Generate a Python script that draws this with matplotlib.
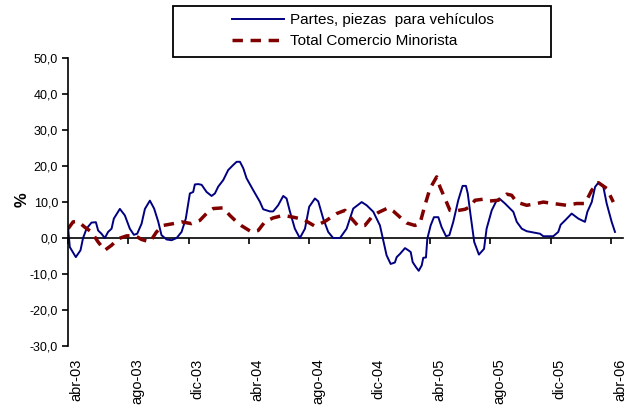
import matplotlib
matplotlib.use("Agg")
import matplotlib.pyplot as plt
from matplotlib.patches import Rectangle
from matplotlib.transforms import ScaledTranslation

plt.rcParams["font.family"] = ["Liberation Sans", "DejaVu Sans"]

# posicion en meses desde abr-03, variacion en %
mes_partes = [0.02, 0.13, 0.53, 0.84, 1.01, 1.24, 1.57, 1.86, 2.01, 2.23,
              2.45, 2.67, 2.90, 3.05, 3.45, 3.78, 4.11, 4.38, 4.60, 4.89,
              5.11, 5.44, 5.72, 5.99, 6.21, 6.55, 6.88, 7.21, 7.54, 7.82,
              8.09, 8.31, 8.42, 8.64, 8.87, 9.20, 9.53, 9.75, 9.97, 10.30,
              10.63, 10.96, 11.19, 11.41, 11.63, 11.85, 12.29, 12.73, 12.95, 13.40,
              13.61, 13.94, 14.28, 14.50, 14.72, 15.05, 15.38, 15.72, 16.00, 16.38,
              16.60, 16.93, 17.26, 17.59, 18.04, 18.48, 18.92, 19.48, 19.81, 20.25,
              20.69, 20.91, 21.13, 21.40, 21.68, 21.80, 22.02, 22.35, 22.57, 22.73,
              22.86, 23.08, 23.26, 23.46, 23.56, 23.74, 23.83, 24.05, 24.27, 24.56,
              24.78, 25.07, 25.29, 25.55, 25.88, 26.17, 26.39, 26.51, 26.70, 26.94,
              27.25, 27.59, 27.76, 28.10, 28.43, 28.60, 28.98, 29.53, 29.76, 30.09,
              30.42, 31.30, 31.52, 32.18, 32.51, 32.67, 32.96, 33.40, 33.84, 34.28,
              34.44, 34.73, 34.95, 35.17, 35.50, 35.72, 36.05, 36.27]
val_partes = [2.7, -2.5, -5.3, -3.4, 0.0, 2.6, 4.3, 4.4, 2.1, 1.2,
              0.0, 1.7, 2.6, 5.4, 8.1, 6.3, 2.6, 0.9, 1.2, 4.0,
              8.1, 10.4, 8.2, 4.6, 0.8, -0.4, -0.6, 0.0, 1.7, 5.4,
              12.4, 12.8, 14.9, 15.0, 14.8, 12.8, 11.7, 12.4, 14.3, 16.1,
              18.9, 20.3, 21.2, 21.2, 19.4, 16.6, 13.3, 10.1, 8.0, 7.4,
              7.4, 9.1, 11.7, 11.0, 7.4, 2.6, 0.0, 2.6, 8.7, 11.0,
              10.2, 5.4, 1.7, 0.0, 0.0, 2.6, 8.2, 10.0, 9.1, 7.3,
              3.5, -0.7, -4.8, -7.2, -6.8, -5.3, -4.4, -2.8, -3.4, -3.9,
              -6.7, -8.1, -9.1, -7.6, -5.5, -5.4, -0.2, 3.5, 5.8, 5.8,
              3.0, 0.5, 0.8, 4.5, 10.5, 14.5, 14.5, 12.4, 6.3, -1.1,
              -4.6, -3.0, 2.6, 7.7, 10.5, 11.0, 9.6, 7.3, 4.5, 2.6,
              1.9, 1.2, 0.5, 0.5, 1.7, 3.7, 4.9, 6.8, 5.4, 4.5,
              7.3, 10.0, 14.2, 15.4, 14.2, 9.6, 4.5, 1.7]

mes_total = [0.02, 0.35, 0.68, 1.13, 1.57, 2.01, 2.45, 2.90, 3.34, 3.89,
             4.44, 4.89, 5.44, 5.88, 6.32, 6.98, 7.54, 8.20, 8.75, 9.30,
             9.64, 10.30, 10.74, 11.19, 11.52, 12.18, 12.62, 13.06, 13.61, 14.28,
             14.94, 15.60, 16.38, 17.04, 17.82, 18.37, 18.81, 19.25, 19.69, 20.14,
             20.58, 21.24, 21.57, 22.02, 22.46, 23.01, 23.34, 23.67, 24.01, 24.45,
             24.67, 25.00, 25.33, 25.66, 26.33, 26.66, 26.99, 27.54, 27.98, 28.53,
             29.09, 29.42, 29.75, 30.42, 31.08, 31.52, 32.18, 33.07, 33.73, 34.28,
             34.73, 35.17, 35.72, 36.16]
val_total = [2.6, 4.5, 4.6, 3.0, 1.7, -1.1, -3.4, -2.0, -0.2, 0.6,
             0.7, -0.4, -1.1, 1.7, 3.5, 4.0, 4.5, 4.0, 4.9, 7.3,
             8.2, 8.4, 6.3, 4.5, 3.4, 1.7, 2.1, 4.5, 5.6, 6.3,
             5.8, 5.2, 3.3, 4.6, 6.8, 7.7, 5.4, 3.3, 3.5, 5.8,
             7.1, 8.4, 7.5, 5.8, 4.2, 3.5, 4.0, 9.1, 13.8, 17.0,
             14.2, 11.0, 7.7, 7.5, 8.0, 8.7, 10.5, 10.8, 10.3, 10.5,
             12.2, 11.9, 10.0, 9.1, 9.6, 10.0, 9.6, 9.1, 9.6, 9.6,
             13.3, 15.4, 13.8, 10.0]

pos_etiquetas = [0, 4, 8, 12, 16, 20, 24, 28, 32, 36]
etiquetas = ["abr-03", "ago-03", "dic-03", "abr-04", "ago-04",
             "dic-04", "abr-05", "ago-05", "dic-05", "abr-06"]
y_ticks = [-30, -20, -10, 0, 10, 20, 30, 40, 50]

fig = plt.figure(figsize=(6.28, 4.07), dpi=100)
ax = fig.add_axes([0.108, 0.150, 0.884, 0.707])

l1, = ax.plot(mes_partes, val_partes, color="#000080", lw=1.4,
              label="Partes, piezas  para vehículos")
l2, = ax.plot(mes_total, val_total, color="#800000", lw=2.5,
              dashes=(3, 2.2), label="Total Comercio Minorista")

ax.set_xlim(0, 36.8)
ax.set_ylim(-30, 50)

for s in ["top", "right", "bottom"]:
    ax.spines[s].set_visible(False)
ax.spines["left"].set_linewidth(1.2)

ax.set_yticks(y_ticks)
ax.set_yticklabels([f"{v:.1f}".replace(".", ",") for v in y_ticks])
ax.tick_params(axis="y", direction="out", length=4, width=1.2,
               labelsize=9, pad=3)

# etiquetas abajo, rotadas
ax.set_xticks(pos_etiquetas)
ax.set_xticklabels(etiquetas, rotation=90, fontsize=10.5, va="top")
ax.tick_params(axis="x", length=0, pad=9)
off = ScaledTranslation(0.09, 0, fig.dpi_scale_trans)
for lab in ax.get_xticklabels():
    lab.set_transform(lab.get_transform() + off)

# eje horizontal en cero con sus marcas
eje0 = ax.secondary_xaxis(30 / 80)
eje0.set_xticks(pos_etiquetas)
eje0.set_xticklabels([])
eje0.tick_params(direction="out", length=4, width=1.2)
eje0.spines["bottom"].set_linewidth(1.2)

fig.text(0.036, 0.51, "%", rotation=90, fontsize=12, fontweight="bold",
         ha="center", va="center")

# leyenda con recuadro ancho
fig.patches.append(Rectangle((0.275, 0.860), 0.602, 0.125,
                             transform=fig.transFigure, fill=False,
                             edgecolor="black", lw=1.3))
fig.legend(handles=[l1, l2], loc="center", bbox_to_anchor=(0.578, 0.924),
           frameon=False, fontsize=11, handlelength=3.4,
           handletextpad=0.4, labelspacing=0.45, borderpad=0.2)

fig.savefig("out.png", dpi=100)
